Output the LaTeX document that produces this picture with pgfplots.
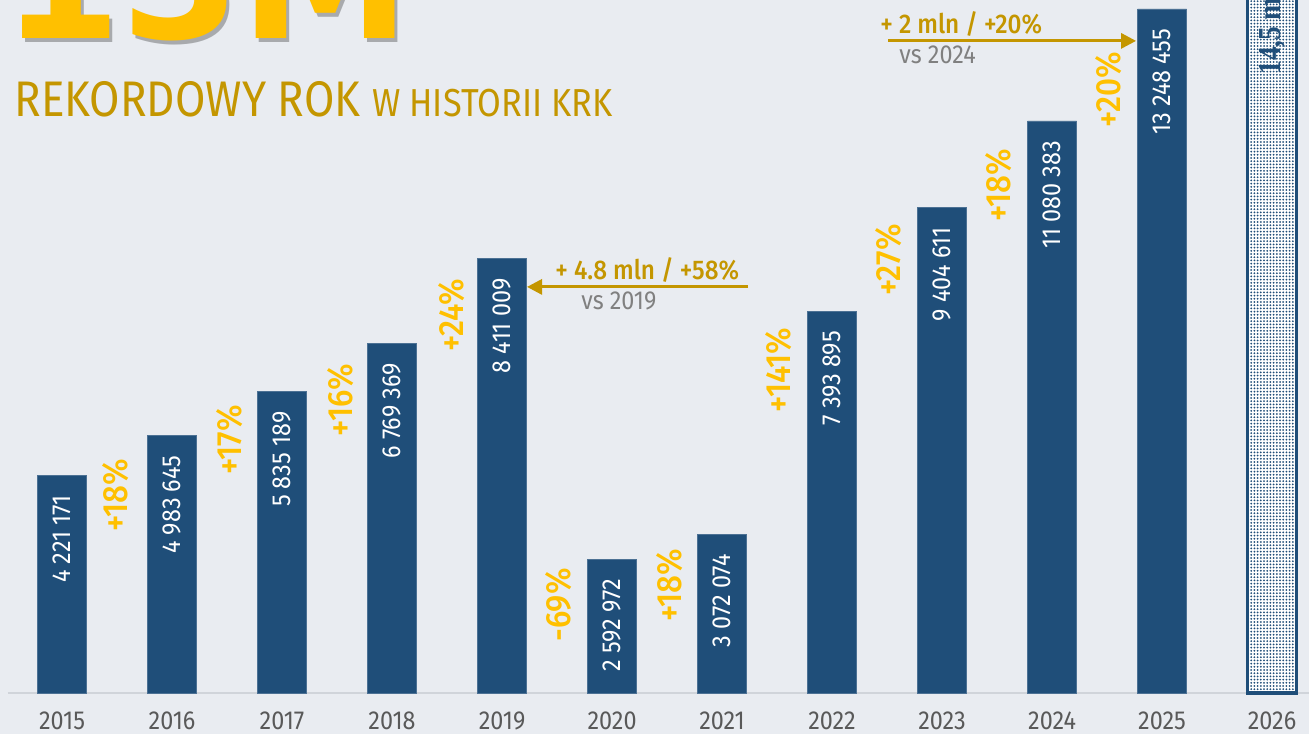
\documentclass[border=0pt]{standalone}
\usepackage{fontspec}
\setmainfont{Fira Sans}[FakeStretch=0.9]
\newfontfamily\titlefont{Fira Sans}[FakeStretch=0.88]
\newfontfamily\medfont{Fira Sans Medium}[FakeStretch=0.9]
\newfontfamily\bigfont{DejaVu Sans}[FakeStretch=0.95]
\newfontfamily\labfont{Liberation Serif}[FakeStretch=0.85]
\usepackage{pgfplots}
\pgfplotsset{compat=1.18}
\usepackage{pgfplotstable}
\usetikzlibrary{patterns.meta,arrows.meta}
\definecolor{bg}{RGB}{233,236,241}
\definecolor{barblue}{RGB}{31,78,121}
\definecolor{pctyel}{RGB}{255,192,0}
\definecolor{gold}{RGB}{196,150,0}
\definecolor{tickgray}{RGB}{89,89,89}
\definecolor{vsgray}{RGB}{128,128,128}
\definecolor{basegray}{RGB}{208,212,218}

\pgfplotstableread{
x y label
0 4.221171 {4 221 171}
1 4.983645 {4 983 645}
2 5.835189 {5 835 189}
3 6.769369 {6 769 369}
4 8.411009 {8 411 009}
5 2.592972 {2 592 972}
6 3.072074 {3 072 074}
7 7.393895 {7 393 895}
8 9.404611 {9 404 611}
9 11.080383 {11 080 383}
10 13.248455 {13 248 455}
}\bars

\pgfplotstableread{
x y label
0.49 3.835 {+18\%}
1.527 4.900 {+17\%}
2.536 5.675 {+16\%}
3.545 7.321 {+24\%}
4.51 1.704 {-69\%}
5.527 2.092 {+18\%}
6.51 6.256 {+141\%}
7.51 8.387 {+27\%}
8.51 9.839 {+18\%}
9.51 11.679 {+20\%}
}\pcts

\begin{document}
\begin{tikzpicture}
\useasboundingbox (0,0) rectangle (654.5pt,367pt);
\clip (0,0) rectangle (654.5pt,367pt);
\fill[bg] (0,0) rectangle (654.5pt,367pt);
\begin{axis}[
  at={(4pt,20.5pt)}, anchor=south west,
  scale only axis, width=650.5pt, height=346.5pt,
  xmin=-0.491, xmax=11.336, ymin=0, ymax=13.42,
  clip=false,
  axis y line=none,
  axis x line*=bottom,
  x axis line style={draw=basegray, line width=1pt},
  xtick={0,...,11},
  xticklabels={2015,2016,2017,2018,2019,2020,2021,2022,2023,2024,2025,2026},
  major tick length=0pt,
  xticklabel style={font=\fontsize{13}{13}\selectfont, text=tickgray, anchor=base, yshift=-18pt},
]
\addplot[ybar, bar width=24.5pt, bar shift=0pt, fill=barblue, draw=barblue!80!white, line width=0.3pt,
  nodes near coords, point meta=explicit symbolic,
  every node near coord/.append style={yshift=-6.5pt, rotate=90, anchor=east, text=white, font=\fontsize{13}{13}\selectfont}]
  table[x=x, y=y, meta=label] {\bars};
\addplot[ybar, bar width=24.5pt, bar shift=0pt, fill=white, draw=barblue, line width=1.6pt,
  postaction={pattern={Dots[distance=1.6pt, radius=0.5pt]}, pattern color=barblue}]
  coordinates {(11,14.5)};
\addplot[only marks, mark=none, nodes near coords, point meta=explicit symbolic,
  every node near coord/.append style={rotate=90, anchor=center, text=pctyel, font=\medfont\fontsize{17.5}{17.5}\selectfont}]
  table[x=x, y=y, meta=label] {\pcts};
% 2026 label
\node[rotate=90, anchor=base west, text=barblue, font=\labfont\bfseries\fontsize{16}{16}\selectfont, inner sep=0pt] at (axis cs:11.08,11.97) {14,5 mln};
% arrows
\draw[gold, line width=1.5pt, -{Triangle[length=7.5pt, width=7.5pt]}] (axis cs:6.236,7.864) -- (axis cs:4.227,7.864);
\node[anchor=west, text=gold, font=\medfont\fontsize{13.5}{13.5}\selectfont, inner sep=0pt] at (axis cs:4.482,8.19) {+ 4.8 mln / +58\%};
\node[anchor=west, text=vsgray, font=\fontsize{13}{13}\selectfont, inner sep=0pt] at (axis cs:4.718,7.59) {vs 2019};
\draw[gold, line width=1.5pt, -{Triangle[length=7.5pt, width=7.5pt]}] (axis cs:7.509,12.628) -- (axis cs:9.764,12.628);
\node[anchor=west, text=gold, font=\medfont\fontsize{13.5}{13.5}\selectfont, inner sep=0pt] at (axis cs:7.436,12.957) {+ 2 mln / +20\%};
\node[anchor=west, text=vsgray, font=\fontsize{13}{13}\selectfont, inner sep=0pt] at (axis cs:7.609,12.357) {vs 2024};
\end{axis}
% big 13M with shadow
\node[anchor=base west, inner sep=0pt, text=black, opacity=0.28, font=\bigfont\bfseries\fontsize{90}{90}\selectfont] at (2.5pt,345.5pt) {13M};
\node[anchor=base west, inner sep=0pt, text=pctyel, font=\bigfont\bfseries\fontsize{90}{90}\selectfont] at (1pt,347.5pt) {13M};
\node[anchor=base west, inner sep=0pt, text=gold] at (7pt,308.5pt) {\titlefont\fontsize{25}{25}\selectfont REKORDOWY ROK {\fontsize{19.5}{19.5}\selectfont W HISTORII KRK}};
\end{tikzpicture}
\end{document}
